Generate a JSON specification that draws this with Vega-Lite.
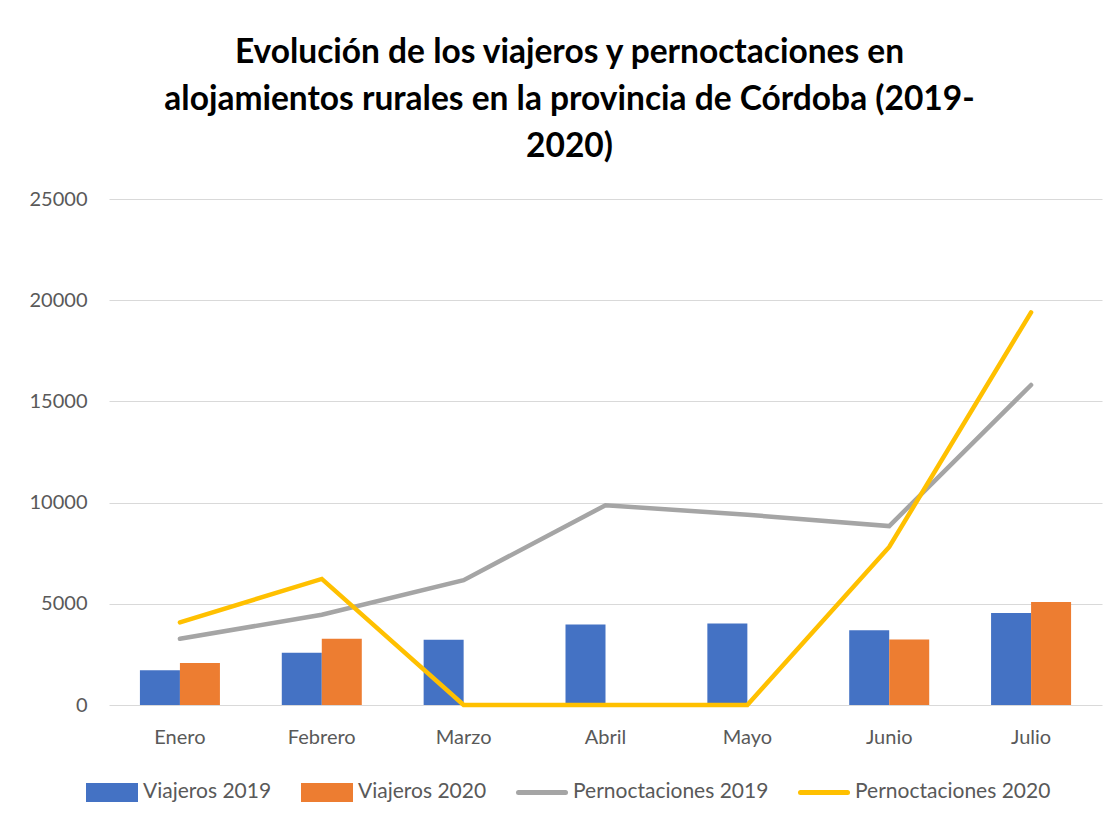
{
  "$schema": "https://vega.github.io/schema/vega-lite/v6.json",
  "autosize": "none",
  "width": 993,
  "height": 506,
  "padding": {"left": 109, "top": 199, "right": 16, "bottom": 116},
  "background": "white",
  "config": {
    "font": "Lato",
    "view": {"stroke": null},
    "axis": {"labelFont": "Lato", "labelColor": "#595959", "labelFontSize": 20, "gridColor": "#d9d9d9", "domain": false, "ticks": false}
  },
  "title": {
    "text": ["Evolución de los viajeros y pernoctaciones en", "alojamientos rurales en la provincia de Córdoba (2019-", "2020)"],
    "fontSize": 33.5,
    "fontWeight": "bold",
    "font": "Lato",
    "color": "#000000",
    "lineHeight": 47,
    "anchor": "middle",
    "frame": "group",
    "dx": -36,
    "offset": 25
  },
  "data": {
    "values": [
      {"mes": "Enero", "serie": "Viajeros 2019", "valor": 1720},
      {"mes": "Febrero", "serie": "Viajeros 2019", "valor": 2580},
      {"mes": "Marzo", "serie": "Viajeros 2019", "valor": 3220},
      {"mes": "Abril", "serie": "Viajeros 2019", "valor": 3980},
      {"mes": "Mayo", "serie": "Viajeros 2019", "valor": 4030},
      {"mes": "Junio", "serie": "Viajeros 2019", "valor": 3690},
      {"mes": "Julio", "serie": "Viajeros 2019", "valor": 4550},
      {"mes": "Enero", "serie": "Viajeros 2020", "valor": 2080},
      {"mes": "Febrero", "serie": "Viajeros 2020", "valor": 3270},
      {"mes": "Marzo", "serie": "Viajeros 2020", "valor": 0},
      {"mes": "Abril", "serie": "Viajeros 2020", "valor": 0},
      {"mes": "Mayo", "serie": "Viajeros 2020", "valor": 0},
      {"mes": "Junio", "serie": "Viajeros 2020", "valor": 3240},
      {"mes": "Julio", "serie": "Viajeros 2020", "valor": 5090},
      {"mes": "Enero", "serie": "Pernoctaciones 2019", "valor": 3270},
      {"mes": "Febrero", "serie": "Pernoctaciones 2019", "valor": 4460},
      {"mes": "Marzo", "serie": "Pernoctaciones 2019", "valor": 6170},
      {"mes": "Abril", "serie": "Pernoctaciones 2019", "valor": 9870},
      {"mes": "Mayo", "serie": "Pernoctaciones 2019", "valor": 9400},
      {"mes": "Junio", "serie": "Pernoctaciones 2019", "valor": 8840},
      {"mes": "Julio", "serie": "Pernoctaciones 2019", "valor": 15810},
      {"mes": "Enero", "serie": "Pernoctaciones 2020", "valor": 4080},
      {"mes": "Febrero", "serie": "Pernoctaciones 2020", "valor": 6230},
      {"mes": "Marzo", "serie": "Pernoctaciones 2020", "valor": 0},
      {"mes": "Abril", "serie": "Pernoctaciones 2020", "valor": 0},
      {"mes": "Mayo", "serie": "Pernoctaciones 2020", "valor": 0},
      {"mes": "Junio", "serie": "Pernoctaciones 2020", "valor": 7810},
      {"mes": "Julio", "serie": "Pernoctaciones 2020", "valor": 19400}
    ]
  },
  "encoding": {
    "x": {
      "field": "mes",
      "type": "nominal",
      "sort": ["Enero", "Febrero", "Marzo", "Abril", "Mayo", "Junio", "Julio"],
      "scale": {"paddingInner": 0.436, "paddingOuter": 0.218},
      "axis": {"title": null, "labelAngle": 0, "labelPadding": 22, "grid": false}
    },
    "y": {
      "field": "valor",
      "type": "quantitative",
      "scale": {"domain": [0, 25000]},
      "axis": {"title": null, "values": [0, 5000, 10000, 15000, 20000, 25000], "format": "d", "labelPadding": 22}
    },
    "color": {
      "field": "serie",
      "type": "nominal",
      "scale": {
        "domain": ["Viajeros 2019", "Viajeros 2020", "Pernoctaciones 2019", "Pernoctaciones 2020"],
        "range": ["#4472C4", "#ED7D31", "#A5A5A5", "#FFC000"]
      },
      "legend": {
        "title": null,
        "orient": "none",
        "legendX": -23,
        "legendY": 567,
        "direction": "horizontal",
        "columns": 4,
        "columnPadding": 21,
        "labelFontSize": 21,
        "labelColor": "#595959",
        "labelFont": "Lato",
        "labelLimit": 0,
        "labelOffset": 5,
        "symbolSize": 2209,
        "symbolType": "M-1,-0.3H1V0.3H-1Z",
        "encode": {
          "symbols": {
            "update": {
              "shape": {"signal": "indexof(datum.value, 'Pernoc') >= 0 ? 'M-1,-0.3M-1,0H1M1,0.3' : 'M-1,-0.3H1V0.3H-1Z'"},
              "fill": {"signal": "indexof(datum.value, 'Pernoc') >= 0 ? 'transparent' : scale('color', datum.value)"},
              "stroke": {"signal": "indexof(datum.value, 'Pernoc') >= 0 ? scale('color', datum.value) : 'transparent'"},
              "strokeWidth": {"value": 5},
              "strokeCap": {"value": "round"},
              "opacity": {"value": 1}
            }
          }
        }
      }
    }
  },
  "layer": [
    {
      "transform": [{"filter": "indexof(datum.serie, 'Viajeros') >= 0"}],
      "mark": {"type": "bar"},
      "encoding": {
        "xOffset": {
          "field": "serie",
          "type": "nominal",
          "sort": ["Viajeros 2019", "Viajeros 2020"],
          "scale": {"paddingInner": 0, "paddingOuter": 0}
        }
      }
    },
    {
      "transform": [{"filter": "indexof(datum.serie, 'Pernoc') >= 0"}],
      "mark": {"type": "line", "strokeWidth": 4.5, "strokeCap": "round", "strokeJoin": "miter"},
      "encoding": {
        "detail": {"field": "serie"}
      }
    }
  ]
}
